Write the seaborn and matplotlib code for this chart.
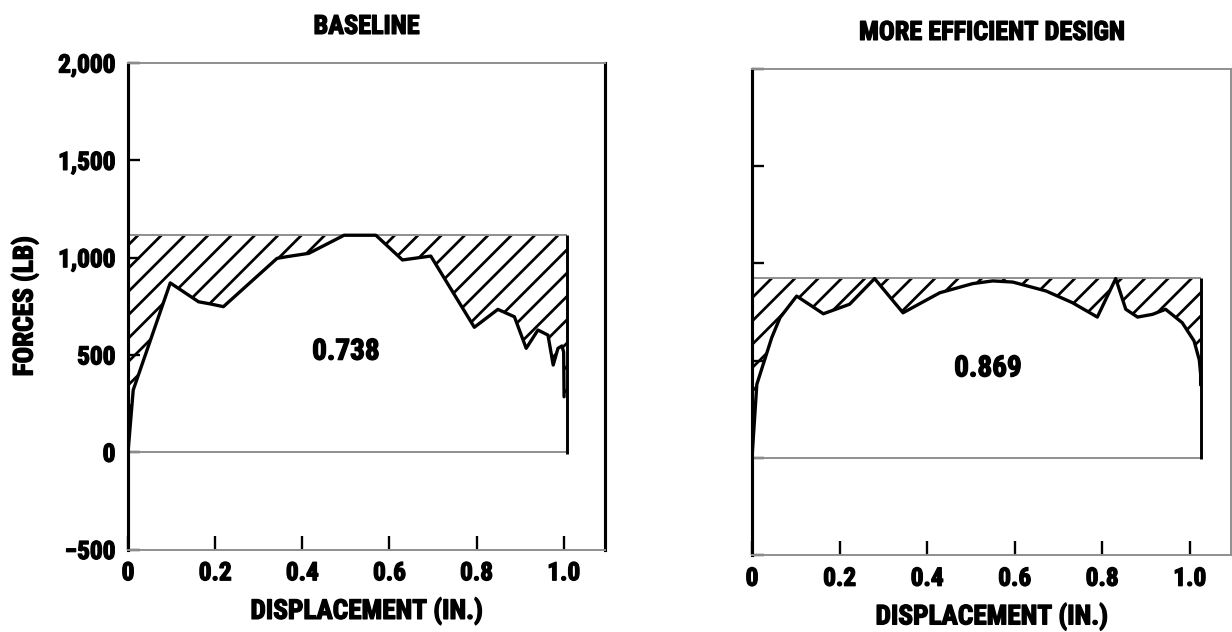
import matplotlib
matplotlib.use("Agg")
import matplotlib.pyplot as plt
import matplotlib.patheffects as pe
from matplotlib import font_manager
import seaborn as sns
import pandas as pd

# ---------------------------
# DATA
# ---------------------------
panel_titles = ["BASELINE", "MORE EFFICIENT DESIGN"]
efficiency = ["0.738", "0.869"]

# baseline force-displacement trace
base_disp = [0.0, 0.012, 0.097, 0.162, 0.189, 0.219, 0.342, 0.365, 0.415, 0.496,
             0.569, 0.630, 0.695, 0.795, 0.849, 0.887, 0.914, 0.941, 0.964, 0.976,
             0.987, 0.996, 1.000, 1.001]
base_force = [0, 320, 870, 773, 762, 748, 996, 1005, 1022, 1115,
              1115, 988, 1008, 642, 734, 696, 534, 628, 602, 448,
              534, 546, 515, 285]
base_peak = 1115
base_stroke = 1.008

# more efficient design trace
eff_disp = [0.0, 0.011, 0.045, 0.064, 0.102, 0.163, 0.223, 0.280, 0.345, 0.429,
            0.504, 0.550, 0.596, 0.672, 0.732, 0.789, 0.831, 0.854, 0.881, 0.915,
            0.945, 0.983, 1.010, 1.022, 1.025, 1.025]
eff_force = [0, 378, 618, 721, 832, 741, 790, 922, 746, 849,
             896, 910, 904, 858, 798, 724, 922, 764, 724, 738,
             764, 695, 601, 503, 430, 375]
eff_peak = 925
eff_stroke = 1.025

x_ticks = [0, 0.2, 0.4, 0.6, 0.8, 1.0]
x_ticklabels = ["0", "0.2", "0.4", "0.6", "0.8", "1.0"]
y_ticks = [-500, 0, 500, 1000, 1500, 2000]
y_ticklabels = ["\u2212500", "0", "500", "1,000", "1,500", "2,000"]

panels = [
    (pd.DataFrame({"disp": base_disp, "force": base_force}), base_peak, base_stroke),
    (pd.DataFrame({"disp": eff_disp, "force": eff_force}), eff_peak, eff_stroke),
]
label_pos = [(0.5, 517), (0.539, 460)]

# ---------------------------
# STYLE
# ---------------------------
sns.set_style("ticks")

# the scan uses a heavy condensed face; pick a narrow family if one is installed
installed = {f.name for f in font_manager.fontManager.ttflist}
narrow = [f for f in ["Roboto Condensed", "Liberation Sans Narrow",
                      "DejaVu Sans Condensed", "Open Sans Condensed"] if f in installed]
scale = 1.0 if narrow else 0.8
plt.rcParams["font.family"] = narrow + ["DejaVu Sans"]
plt.rcParams["font.weight"] = "bold"
plt.rcParams["font.stretch"] = "condensed"
plt.rcParams["hatch.linewidth"] = 1.4
for key in ["text.color", "axes.labelcolor", "xtick.color", "ytick.color"]:
    plt.rcParams[key] = "black"

grey = "#8f8f8f"
heavy = [pe.withStroke(linewidth=0.7, foreground="black")]

fig = plt.figure(figsize=(1232 / 140, 632 / 140), dpi=140)
ax_left = fig.add_axes([0.1039, 0.1305, 0.3872, 0.7698])
ax_right = fig.add_axes([0.6104, 0.1218, 0.3890, 0.7690])
axes = [ax_left, ax_right]

for i, ax in enumerate(axes):
    df, peak, stroke = panels[i]

    # hatched area between the trace and the peak force
    xs = list(df["disp"]) + [stroke]
    ys = list(df["force"]) + [df["force"].iloc[-1]]
    ax.fill_between(xs, ys, peak, facecolor="none",
                    edgecolor="black", hatch="//", linewidth=0)

    # equivalent rectangle (peak force x stroke)
    ax.hlines(peak, 0, stroke, color=grey, lw=1.0)
    ax.hlines(0, 0, stroke, color=grey, lw=1.0)
    ax.vlines(stroke, -8, peak, color="black", lw=1.5)

    sns.lineplot(data=df, x="disp", y="force", ax=ax, color="black", lw=1.7,
                 estimator=None, sort=False)

    ax.text(label_pos[i][0], label_pos[i][1], efficiency[i],
            ha="center", va="center", fontsize=15 * scale, fontweight="bold",
            path_effects=heavy)

    ax.set_xlim(0, 1.095)
    ax.set_ylim(-500, 2000)
    ax.set_xticks(x_ticks)
    ax.set_xticklabels(x_ticklabels)
    ax.set_yticks(y_ticks)
    ax.tick_params(axis="both", direction="in", width=1.2, labelsize=13 * scale)
    ax.tick_params(axis="y", length=6, pad=6.5)
    ax.tick_params(axis="x", length=7, pad=6)

    ax.set_title(panel_titles[i], fontsize=13.5 * scale, fontweight="bold", pad=15,
                 path_effects=heavy)
    ax.set_xlabel("DISPLACEMENT (IN.)", fontsize=14 * scale, fontweight="bold",
                  labelpad=6, path_effects=heavy)

    ax.spines["left"].set_linewidth(1.6)
    ax.spines["left"].set_color("black")
    ax.spines["top"].set_color(grey)
    ax.spines["top"].set_linewidth(1.0)
    ax.spines["bottom"].set_color(grey)
    ax.spines["bottom"].set_linewidth(1.0)

ax_left.set_yticklabels(y_ticklabels)
ax_left.set_ylabel("FORCES (LB)", fontsize=14 * scale, fontweight="bold", labelpad=10,
                   path_effects=heavy)
ax_left.spines["right"].set_color("black")
ax_left.spines["right"].set_linewidth(1.6)

ax_right.set_yticklabels([])
ax_right.set_ylabel("")
ax_right.spines["right"].set_color(grey)
ax_right.spines["right"].set_linewidth(1.0)

for ax in axes:
    for lbl in ax.get_xticklabels() + ax.get_yticklabels():
        lbl.set_fontweight("bold")
        lbl.set_path_effects(heavy)

fig.savefig("out.png", dpi=140)
